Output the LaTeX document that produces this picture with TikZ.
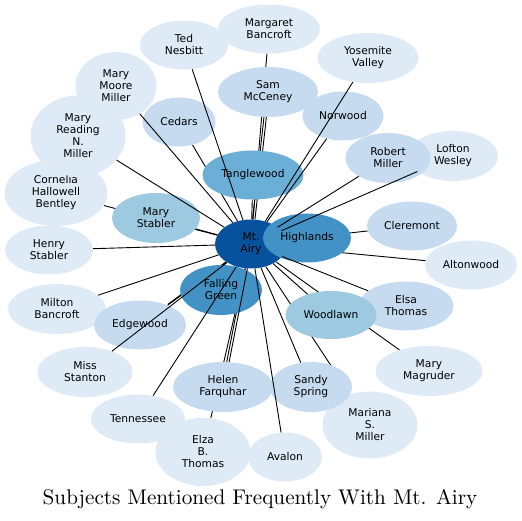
\documentclass[tikz,border=0pt]{standalone}
\usepackage{fontspec}
\newfontfamily\subjfont{DejaVu Sans}
\newfontfamily\titlefont[Extension=.otf]{lmroman10-regular}
\usepackage{tikz}
\usetikzlibrary{shapes.geometric}

\pgfdeclarelayer{back}
\pgfsetlayers{back,main}

\definecolor{blueA}{HTML}{08519C}
\definecolor{blueB}{HTML}{4292C6}
\definecolor{blueC}{HTML}{6BAED6}
\definecolor{blueD}{HTML}{9ECAE1}
\definecolor{blueE}{HTML}{C6DBEF}
\definecolor{blueF}{HTML}{DEEBF7}

\begin{document}
\begin{tikzpicture}[x=1pt, y=-1pt,
        subj/.style={ellipse, inner sep=0pt, minimum height=49pt, align=center, font=\subjfont\fontsize{10.7}{12}\selectfont},
        hub/.style={subj, fill=blueA},
        tierb/.style={subj, fill=blueB},
        tierc/.style={subj, fill=blueC},
        tierd/.style={subj, fill=blueD},
        tiere/.style={subj, fill=blueE},
        tierf/.style={subj, fill=blueF},
        link/.style={line width=0.9pt},
        twin/.style={link, transform canvas={shift={#1}}}
    ]

    \useasboundingbox (0,0) rectangle (522,521);

    % outer ring
    \node[tierf, minimum width=102pt] (margaret) at (269,29) {Margaret\\Bancroft};
    \node[tierf, minimum width=88pt] (ted) at (184,45) {Ted\\Nesbitt};
    \node[tierf, minimum width=101pt, minimum height=50pt] (yosemite) at (368,58) {Yosemite\\Valley};
    \node[tierf, minimum width=103pt, minimum height=66pt] (cornelia) at (56,193) {Cornelia\\Hallowell\\Bentley};
    \node[tierf, minimum width=95pt, minimum height=81pt] (reading) at (78,136) {Mary\\Reading\\N.\\Miller};
    \node[tierf, minimum width=81pt, minimum height=68pt] (moore) at (116,86) {Mary\\Moore\\Miller};
    \node[tierf, minimum width=90pt, minimum height=50pt] (lofton) at (453,156) {Lofton\\Wesley};
    \node[tierf, minimum width=88pt] (henry) at (49,250) {Henry\\Stabler};
    \node[tierf, minimum width=92pt] (altonwood) at (471,265) {Altonwood};
    \node[tierf, minimum width=98pt, minimum height=50pt] (milton) at (57,309) {Milton\\Bancroft};
    \node[tierf, minimum width=107pt, minimum height=50pt] (magruder) at (429,371) {Mary\\Magruder};
    \node[tierf, minimum width=95pt, minimum height=50pt] (stanton) at (85,372) {Miss\\Stanton};
    \node[tierf, minimum width=94pt] (tennessee) at (138,419) {Tennessee};
    \node[tierf, minimum width=95pt, minimum height=68pt] (elza) at (203,452) {Elza\\B.\\Thomas};
    \node[tierf, minimum width=95pt, minimum height=67pt] (mariana) at (370,425) {Mariana\\S.\\Miller};
    \node[tierf, minimum width=74pt] (avalon) at (285,457) {Avalon};

    % inner ring
    \node[tiere, minimum width=100pt, minimum height=50pt] (sam) at (268,92) {Sam\\McCeney};
    \node[tiere, minimum width=81pt] (norwood) at (343,116) {Norwood};
    \node[tiere, minimum width=73pt] (cedars) at (179,122) {Cedars};
    \node[tiere, minimum width=85pt, minimum height=50pt] (robert) at (388,158) {Robert\\Miller};
    \node[tiere, minimum width=90pt] (cleremont) at (412,226) {Cleremont};
    \node[tiere, minimum width=92pt] (edgewood) at (140,325) {Edgewood};
    \node[tiere, minimum width=95pt] (elsa) at (406,306) {Elsa\\Thomas};
    \node[tiere, minimum width=100pt, minimum height=50pt] (helen) at (223,387) {Helen\\Farquhar};
    \node[tiere, minimum width=82pt, minimum height=50pt] (sandy) at (311,387) {Sandy\\Spring};

    \node[tierd, minimum width=88pt, minimum height=50pt] (stabler) at (156,218) {Mary\\Stabler};
    \node[tierd, minimum width=91pt, minimum height=48pt] (woodlawn) at (331,315) {Woodlawn};
    \node[tierc, minimum width=101pt] (tanglewood) at (253,175) {Tanglewood};
    \node[tierb, minimum width=82pt, minimum height=50pt] (falling) at (221,290) {Falling\\Green};

    % centre
    \node[hub, minimum width=72pt] (airy) at (251,244) {Mt.\\Airy};
    \node[tierb, minimum width=88pt] (highlands) at (307,238) {Highlands};

    % links hidden behind other nodes
    \begin{pgfonlayer}{back}
        \draw[link] (airy) -- (margaret);
        \draw[twin={(-1.2pt,0pt)}] (airy) -- (sam);
        \draw[twin={(1.2pt,0pt)}] (airy) -- (sam);
        \draw[link] (airy) -- (tanglewood);
        \draw[link] (airy) -- (cedars);
        \draw[link] (airy) -- (cornelia);
        \draw[twin={(0.7pt,0.9pt)}] (airy) -- (edgewood);
        \draw[twin={(-0.7pt,-0.9pt)}] (airy) -- (edgewood);
        \draw[twin={(-1.2pt,0pt)}] (airy) -- (helen);
        \draw[link] (airy) -- (elza);
        \draw[link] (airy) -- (mariana);
        \draw[link] (airy) -- (magruder);
        \draw[link] (airy) -- (cleremont);
        \draw[link] (airy) -- (altonwood);
    \end{pgfonlayer}

    % links drawn over the nodes
    \draw[link] (airy) -- (ted);
    \draw[link] (airy) -- (yosemite);
    \draw[link] (airy) -- (norwood);
    \draw[link] (airy) -- (robert);
    \draw[link] (airy) -- (lofton);
    \draw[link] (airy) -- (moore);
    \draw[link] (airy) -- (reading);
    \draw[link] (airy) -- (stabler);
    \draw[link] (airy) -- (henry);
    \draw[link] (airy) -- (milton);
    \draw[link] (airy) -- (stanton);
    \draw[link] (airy) -- (tennessee);
    \draw[twin={(1.2pt,0pt)}] (airy) -- (helen);
    \draw[link] (airy) -- (avalon);
    \draw[link] (airy) -- (sandy);
    \draw[link] (airy) -- (woodlawn);
    \draw[link] (airy) -- (elsa);

    % title
    \node[font=\titlefont\fontsize{21.2}{25}\selectfont] (title) at (260,499) {Subjects Mentioned Frequently With Mt. Airy};

\end{tikzpicture}
\end{document}
